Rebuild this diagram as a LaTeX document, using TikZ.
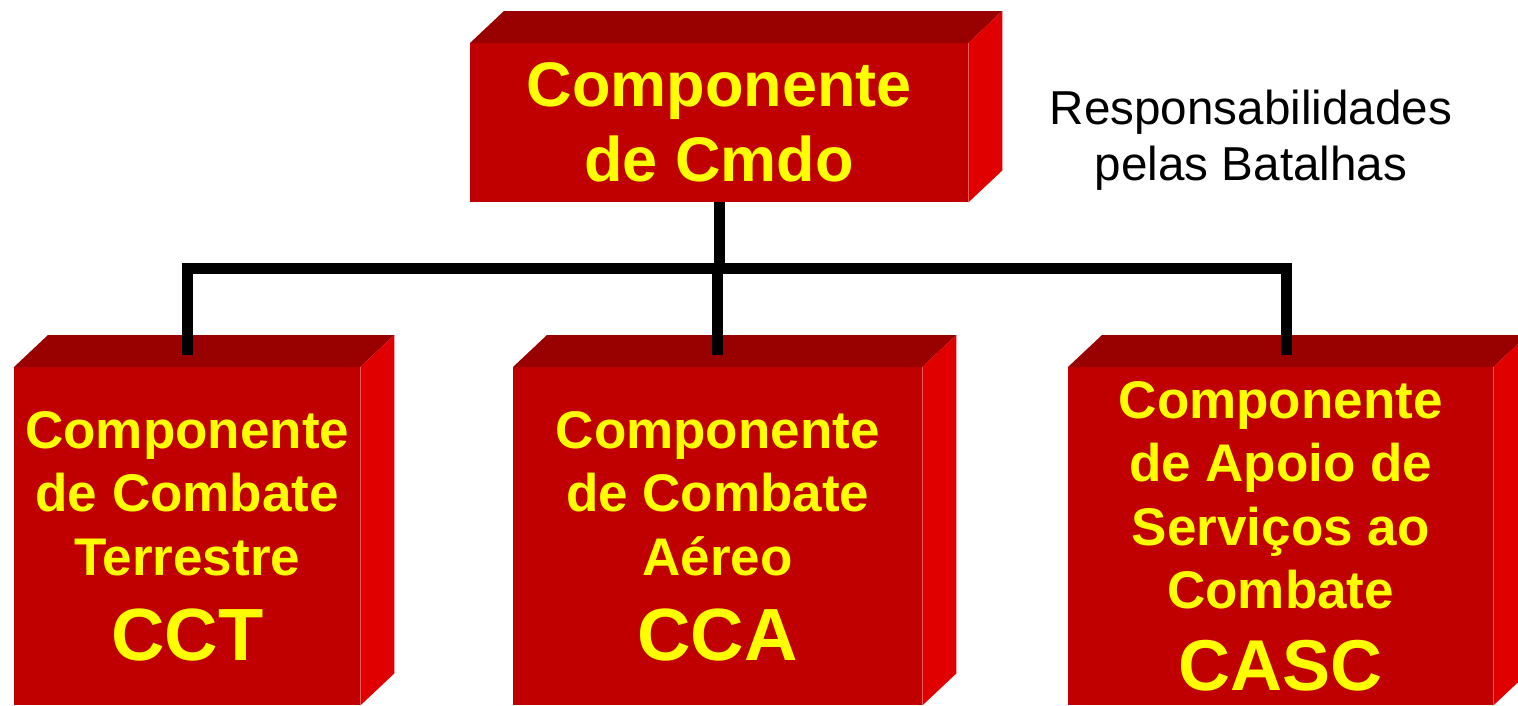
\documentclass[tikz,border=0pt]{standalone}
\usepackage{fontspec}
\setmainfont{Liberation Sans}

\definecolor{frontred}{RGB}{192,0,0}
\definecolor{topred}{RGB}{153,0,0}
\definecolor{sidered}{RGB}{224,0,0}
\definecolor{boxyellow}{RGB}{255,255,0}

\begin{document}
\begin{tikzpicture}[x=1pt, y=-1pt,
    box/.style={fill=frontred, text=boxyellow, align=center, inner sep=0pt,
        anchor=north west, font=\bfseries\fontsize{53}{63.5}\selectfont},
    conn/.style={line width=11pt, line join=miter}]
    % Page frame
    \useasboundingbox (0,0) rectangle (1518,705);

    % Command box
    \node[box, minimum width=498pt, minimum height=159pt,
        font=\bfseries\fontsize{63}{75}\selectfont] (cmdo) at (470,43)
        {Componente\\de Cmdo};

    % Component boxes
    \node[box, minimum width=346pt, minimum height=338pt] (cct) at (14,367)
        {Componente\\de Combate\\Terrestre\\[21.5pt]{\fontsize{74}{74}\selectfont CCT}};
    \node[box, minimum width=409pt, minimum height=338pt] (cca) at (513,367)
        {Componente\\de Combate\\Aéreo\\[21.5pt]{\fontsize{74}{74}\selectfont CCA}};
    \node[box, minimum width=425pt, minimum height=338pt] (casc) at (1068,367)
        {Componente\\de Apoio de\\Serviços ao\\Combate\\[18pt]{\fontsize{72}{72}\selectfont CASC}};

    % Top and side faces
    \foreach \b in {cmdo,cct,cca,casc} {
        \fill[topred] (\b.north west) -- ++(34,-32)
            -- ([shift={(34pt,32pt)}]\b.north east) -- (\b.north east) -- cycle;
        \fill[sidered] (\b.north east) -- ++(34,-32)
            -- ([shift={(34pt,32pt)}]\b.south east) -- (\b.south east) -- cycle;
    }

    % Side label
    \node[font=\fontsize{47.6}{56}\selectfont, align=center, inner sep=0pt]
        (resp) at (1251,140) {Responsabilidades\\pelas Batalhas};

    % Connectors
    \coordinate (bar) at (0,268);
    \coordinate (cctin) at ([yshift=12pt]cct.north);
    \coordinate (ccain) at ([yshift=12pt]cca.north);
    \coordinate (cascin) at ([xshift=6pt,yshift=12pt]casc.north);
    \draw[conn] (cmdo.south) -- (cmdo.south |- bar);
    \draw[conn] (cctin) |- (cascin |- bar) -- (cascin);
    \draw[conn] (ccain |- bar) -- (ccain);
\end{tikzpicture}
\end{document}
